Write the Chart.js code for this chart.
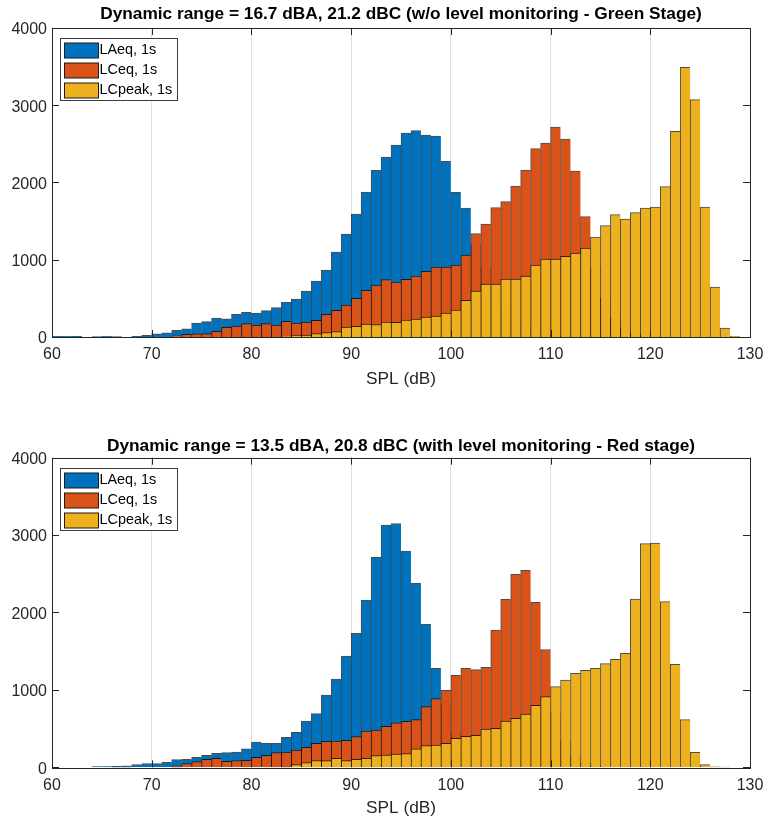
<!DOCTYPE html>
<html>
<head>
<meta charset="utf-8">
<title>SPL histograms - Green / Red stage</title>
<script src="https://cdn.jsdelivr.net/npm/chart.js@4.4.1/dist/chart.umd.min.js"></script>
<style>
  body { margin: 0; background: #fff; }
  canvas { display: block; }
</style>
</head>
<body>
<canvas id="greenStage" width="766" height="410"></canvas>
<canvas id="redStage" width="766" height="409"></canvas>
<script>
// 1 dB bins from 60 to 130 dB, counts per bin (index 0 = 60-61 dB)
const binStart = 60;
const binCount = 70;
const binCentres = Array.from({ length: binCount }, (_, i) => binStart + i + 0.5);

const seriesLabels = ["LAeq, 1s", "LCeq, 1s", "LCpeak, 1s"];
const seriesColors = ["#0072BD", "#D95319", "#EDB120"];

const xTicks = [60, 70, 80, 90, 100, 110, 120, 130];
const yTicks = [0, 1000, 2000, 3000, 4000];

const greenTitle = "Dynamic range = 16.7 dBA, 21.2 dBC (w/o level monitoring - Green Stage)";
const redTitle = "Dynamic range = 13.5 dBA, 20.8 dBC (with level monitoring - Red stage)";

const greenLAeq = [
  8, 8, 10, 0, 6, 8, 6, 0, 10, 20,
  40, 55, 85, 105, 180, 200, 245, 235, 295, 319,
  311, 341, 380, 449, 492, 595, 725, 867, 1100, 1333,
  1592, 1877, 2157, 2330, 2485, 2641, 2671, 2615, 2602, 2274,
  1873, 1670, 1200, 900, 600, 400, 250, 150, 80, 40,
  20, 10, 0, 0, 0, 0, 0, 0, 0, 0,
  0, 0, 0, 0, 0, 0, 0, 0, 0, 0
];
const greenLCeq = [
  0, 0, 0, 0, 0, 0, 0, 0, 0, 0,
  0, 0, 15, 35, 40, 43, 73, 125, 140, 173,
  155, 173, 155, 203, 181, 194, 216, 293, 345, 414,
  500, 604, 673, 742, 712, 745, 790, 850, 906, 906,
  932, 1061, 1338, 1463, 1674, 1752, 1955, 2162, 2438, 2511,
  2718, 2563, 2149, 1558, 900, 500, 250, 120, 50, 20,
  10, 0, 0, 0, 0, 0, 0, 0, 0, 0
];
const greenLCpeak = [
  0, 0, 0, 0, 0, 0, 0, 0, 0, 0,
  0, 0, 0, 0, 0, 0, 0, 0, 0, 0,
  0, 0, 0, 9, 17, 26, 43, 56, 69, 129,
  138, 168, 160, 194, 190, 218, 233, 259, 272, 311,
  350, 475, 595, 686, 686, 751, 751, 790, 932, 1010,
  1010, 1044, 1087, 1152, 1294, 1441, 1584, 1527, 1609, 1670,
  1683, 1946, 2662, 3491, 3072, 1683, 647, 117, 8, 0
];

const redLAeq = [
  0, 0, 0, 0, 8, 10, 12, 20, 35, 47,
  47, 65, 100, 103, 129, 155, 181, 190, 196, 237,
  327, 310, 310, 388, 452, 598, 693, 934, 1141, 1438,
  1731, 2161, 2713, 3130, 3147, 2794, 2377, 1847, 1279, 800,
  450, 250, 120, 60, 30, 15, 0, 0, 0, 0,
  0, 0, 0, 0, 0, 0, 0, 0, 0, 0,
  0, 0, 0, 0, 0, 0, 0, 0, 0, 0
];
const redLCeq = [
  0, 0, 0, 0, 0, 0, 0, 0, 0, 0,
  0, 0, 20, 47, 73, 103, 116, 77, 88, 90,
  129, 155, 189, 198, 224, 258, 310, 336, 340, 349,
  396, 469, 482, 530, 573, 594, 616, 784, 887, 995,
  1188, 1279, 1262, 1292, 1774, 2170, 2493, 2545, 2131, 1520,
  700, 350, 150, 60, 25, 10, 0, 0, 0, 0,
  0, 0, 0, 0, 0, 0, 0, 0, 0, 0
];
const redLCpeak = [
  0, 0, 0, 0, 0, 0, 0, 0, 0, 0,
  0, 0, 0, 0, 0, 0, 0, 0, 0, 0,
  0, 0, 0, 13, 34, 60, 86, 86, 116, 86,
  103, 116, 151, 159, 172, 176, 237, 280, 288, 310,
  375, 400, 413, 495, 504, 598, 633, 689, 801, 913,
  1042, 1128, 1214, 1253, 1279, 1339, 1395, 1473, 2174, 2889,
  2898, 2140, 1330, 616, 194, 34, 5, 3, 0, 0
];

const FONT = "'Liberation Sans', Arial, Helvetica, sans-serif";
const AXIS_COLOR = "#262626";
const TICK_LEN = 7;

// MATLAB style box with inward ticks on all four sides
const matlabFrame = {
  id: "matlabFrame",
  afterDatasetsDraw(chart) {
    const { ctx, chartArea: a, scales: { x, y } } = chart;
    ctx.save();
    ctx.strokeStyle = AXIS_COLOR;
    ctx.lineWidth = 1;
    ctx.beginPath();
    x.ticks.forEach((t) => {
      const px = Math.round(x.getPixelForValue(t.value)) + 0.5;
      ctx.moveTo(px, a.bottom);
      ctx.lineTo(px, a.bottom - TICK_LEN);
      ctx.moveTo(px, a.top);
      ctx.lineTo(px, a.top + TICK_LEN);
    });
    y.ticks.forEach((t) => {
      const py = Math.round(y.getPixelForValue(t.value)) + 0.5;
      ctx.moveTo(a.left, py);
      ctx.lineTo(a.left + TICK_LEN, py);
      ctx.moveTo(a.right, py);
      ctx.lineTo(a.right - TICK_LEN, py);
    });
    ctx.stroke();
    ctx.strokeRect(Math.round(a.left) + 0.5, Math.round(a.top) + 0.5,
                   Math.round(a.width), Math.round(a.height));
    ctx.restore();
  }
};

// boxed legend in the top-left corner of the axes
const boxedLegend = {
  id: "boxedLegend",
  afterDraw(chart) {
    const { ctx, chartArea: a } = chart;
    const left = Math.round(a.left + 8) + 0.5;
    const top = Math.round(a.top + 10) + 0.5;
    const rowH = 20;
    const datasets = chart.data.datasets;
    ctx.save();
    ctx.fillStyle = "#fff";
    ctx.strokeStyle = "#3c3c3c";
    ctx.lineWidth = 1;
    ctx.fillRect(left, top, 117, 62);
    ctx.strokeRect(left, top, 117, 62);
    ctx.font = "14.4px " + FONT;
    ctx.textBaseline = "middle";
    ctx.textAlign = "left";
    datasets.forEach((ds, i) => {
      const cy = top + 11.5 + i * rowH;
      ctx.fillStyle = ds.backgroundColor;
      ctx.fillRect(left + 4, Math.round(cy - 7.5), 34, 15);
      ctx.strokeStyle = "#1a1a1a";
      ctx.strokeRect(left + 4, Math.round(cy - 7.5), 34, 15);
      ctx.fillStyle = "#000";
      ctx.fillText(ds.label, left + 39, cy);
    });
    ctx.restore();
  }
};

function makeChart(canvasId, titleText, values, geom) {
  const ctx = document.getElementById(canvasId).getContext("2d");
  const datasets = values.map((vals, i) => ({
    label: seriesLabels[i],
    data: binCentres.map((c, j) => ({ x: c, y: vals[j] })),
    backgroundColor: seriesColors[i],
    borderColor: "rgba(0,0,0,0.7)",
    borderWidth: { top: 1, left: 1, right: 0, bottom: 0 },
    borderSkipped: false,
    barPercentage: 1,
    categoryPercentage: 1,
    grouped: false,
    order: values.length - i // later series drawn on top, like MATLAB
  }));

  return new Chart(ctx, {
    type: "bar",
    data: { datasets },
    plugins: [matlabFrame, boxedLegend],
    options: {
      responsive: false,
      animation: false,
      devicePixelRatio: 1,
      layout: { padding: { left: 0, right: 16, top: 0, bottom: 0 } },
      scales: {
        x: {
          type: "linear",
          min: 60,
          max: 130,
          offset: false,
          afterBuildTicks: (scale) => {
            scale.ticks = xTicks.map((v) => ({ value: v }));
          },
          afterFit: (scale) => {
            scale.height = geom.xAxisHeight;
            scale.paddingLeft = 0;
            scale.paddingRight = 0;
          },
          ticks: {
            padding: 8.4,
            color: AXIS_COLOR,
            font: { family: FONT, size: 16 },
            maxRotation: 0,
            callback: (v) => String(v)
          },
          grid: {
            display: true,
            offset: false,
            drawTicks: false,
            color: "#dfdfdf",
            lineWidth: 1
          },
          border: { display: false },
          title: {
            display: true,
            text: "SPL (dB)",
            color: AXIS_COLOR,
            font: { family: FONT, size: 17.3 },
            padding: { top: 0, bottom: geom.xTitleBottom }
          }
        },
        y: {
          type: "linear",
          min: 0,
          max: 4000,
          afterBuildTicks: (scale) => {
            scale.ticks = yTicks.map((v) => ({ value: v }));
          },
          afterFit: (scale) => {
            scale.width = 52;
            scale.paddingTop = 0;
            scale.paddingBottom = 0;
          },
          ticks: {
            padding: 5,
            labelOffset: 2,
            color: AXIS_COLOR,
            font: { family: FONT, size: 16 },
            callback: (v) => String(v)
          },
          grid: { display: false, drawTicks: false },
          border: { display: false }
        }
      },
      plugins: {
        legend: { display: false },
        tooltip: { enabled: false },
        title: {
          display: true,
          fullSize: false,
          text: titleText,
          color: "#000",
          font: { family: FONT, size: 17.3, weight: "bold" },
          padding: { top: geom.titleTop, bottom: geom.titleBottom }
        }
      }
    }
  });
}

makeChart("greenStage", greenTitle, [greenLAeq, greenLCeq, greenLCpeak],
  { titleTop: 4.1, titleBottom: 3.1, xAxisHeight: 73, xTitleBottom: 20.3 });
makeChart("redStage", redTitle, [redLAeq, redLCeq, redLCpeak],
  { titleTop: 25.6, titleBottom: 1.3, xAxisHeight: 51.7, xTitleBottom: 0 });
</script>
</body>
</html>
